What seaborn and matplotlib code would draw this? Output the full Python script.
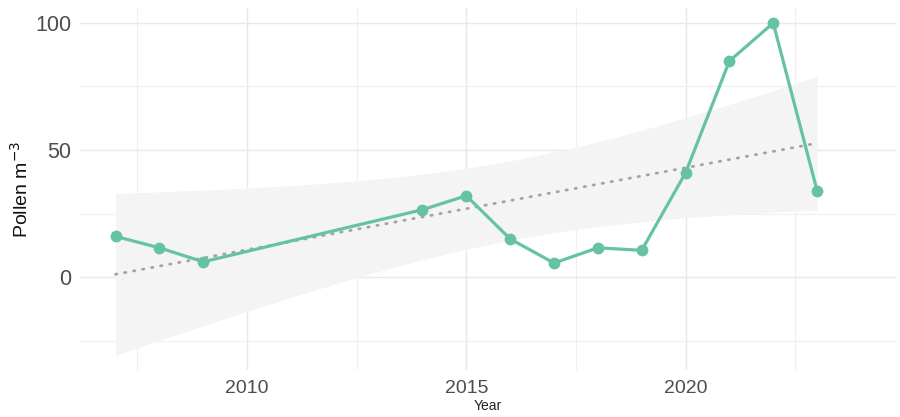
import numpy as np
import pandas as pd
import matplotlib
matplotlib.use("Agg")
import matplotlib.pyplot as plt
import seaborn as sns

years = [2007, 2008, 2009, 2014, 2015, 2016, 2017, 2018, 2019, 2020, 2021, 2022, 2023]
pollen = [16, 11.5, 6, 26.5, 32, 15, 5.5, 11.5, 10.5, 41, 85, 100, 34]
x_major = [2010, 2015, 2020]
x_minor = [2007.5, 2012.5, 2017.5, 2022.5]
y_major = [0, 50, 100]
y_minor = [-25, 25, 75]

df = pd.DataFrame({"Year": years, "Pollen": pollen})

sns.set_theme(style="white")
plt.rcParams['font.family'] = ['Liberation Sans', 'DejaVu Sans']

fig = plt.figure(figsize=(9, 4.17), dpi=100)
ax = fig.add_axes([80/900, 1-370/417, (896-80)/900, (370-8)/417])

# linear fit with 95% CI (analytic)
x = np.array(years, float); y = np.array(pollen, float)
n = len(x)
b, a = np.polyfit(x, y, 1)
resid = y - (a + b*x)
s = np.sqrt(np.sum(resid**2)/(n-2))
xg = np.linspace(x.min(), x.max(), 200)
yg = a + b*xg
t = 2.201
se = s*np.sqrt(1/n + (xg-x.mean())**2/np.sum((x-x.mean())**2))
ax.fill_between(xg, yg-t*se, yg+t*se, color="#f4f4f4", lw=0, zorder=1)
ax.plot(xg, yg, color="#a3a3a3", lw=2.0, linestyle=(0, (0.5, 2.8)),
        dash_capstyle="round", zorder=2)

sns.lineplot(data=df, x="Year", y="Pollen", ax=ax, color="#66c2a5",
             linewidth=2.3, marker="o", markersize=8.5, markeredgewidth=0,
             zorder=3)

ax.set_xlim(2006.19, 2024.8)
ax.set_ylim(-36.6, 105.9)
ax.set_xticks(x_major)
ax.set_xticks(x_minor, minor=True)
ax.set_yticks(y_major)
ax.set_yticks(y_minor, minor=True)
ax.grid(True, which="major", color="#e8e8e8", lw=1.0, zorder=0)
ax.grid(True, which="minor", color="#f0f0f0", lw=0.9, zorder=0)
ax.set_axisbelow(True)
for sp in ax.spines.values():
    sp.set_visible(False)
ax.tick_params(axis="x", which="both", length=0, pad=7, labelsize=14, labelcolor="#4d4d4d")
ax.tick_params(axis="y", which="both", length=0, pad=6, labelsize=15.5, labelcolor="#4d4d4d")
ax.set_xlabel("Year", fontsize=10, color="#222222", labelpad=2)
ax.set_ylabel("Pollen m$^{-3}$", fontsize=14, color="#111111", labelpad=3)

fig.savefig("out.png", dpi=100)
